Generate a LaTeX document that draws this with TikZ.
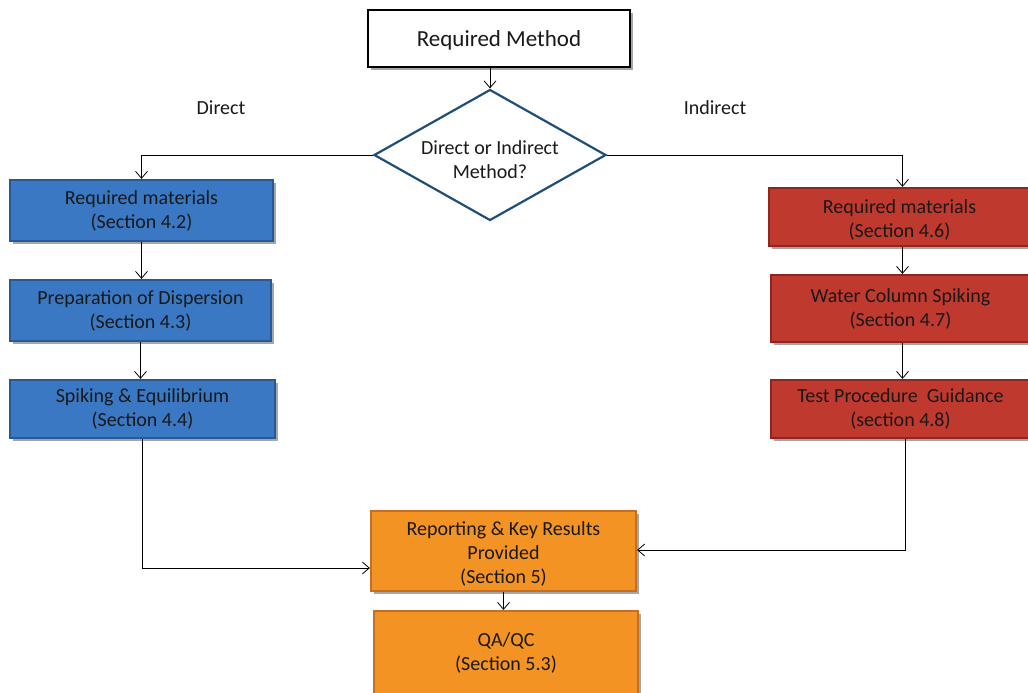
\documentclass[tikz,border=0pt]{standalone}
\usepackage{fontspec}
\setmainfont{Carlito}
\usetikzlibrary{shapes.geometric,arrows.meta,shadows}
\definecolor{bluefill}{HTML}{3B78C3}
\definecolor{blueedge}{HTML}{275A95}
\definecolor{redfill}{HTML}{C0392F}
\definecolor{rededge}{HTML}{8F2520}
\definecolor{orangefill}{HTML}{F39323}
\definecolor{orangeedge}{HTML}{C56F22}
\definecolor{diaedge}{HTML}{1F4E79}
\tikzset{
  box/.style={rectangle, inner sep=0pt, align=center, font=\fontsize{20}{24}\selectfont, text=black!90,
    line width=2.2pt, drop shadow={shadow xshift=3pt, shadow yshift=-3pt, opacity=0.35, fill=black}},
  bluebox/.style={box, fill=bluefill, draw=blueedge},
  redbox/.style={box, fill=redfill, draw=rededge},
  orangebox/.style={box, fill=orangefill, draw=orangeedge},
  arr/.style={-{Straight Barb[length=7pt,width=12pt]}, line width=0.8pt, black},
  lbl/.style={font=\fontsize{20}{24}\selectfont, text=black!90}
}
\begin{document}
\begin{tikzpicture}[x=1pt,y=-1pt]
\useasboundingbox (0,0) rectangle (1028,693);
\fill[white] (0,0) rectangle (1028,693);
\node[box, fill=white, draw=black, line width=2.8pt, minimum width=262pt, minimum height=57pt] (rm) at (499,38.5) {};
\node[font=\fontsize{23}{28}\selectfont, text=black!90] (rmt) at (499,40.5) {Required Method};
\node[diamond, aspect=1.77, draw=diaedge, fill=white, line width=2.2pt, minimum width=232pt, minimum height=131pt,
  inner sep=0pt] (dm) at (490,155) {};
\node[align=center, font=\fontsize{20}{24}\selectfont, text=black!90] (dmt) at (490,160)
  {Direct or Indirect\\Method?};
\node[lbl] (ld) at (221,108) {Direct};
\node[lbl] (li) at (715,108) {Indirect};

\node[bluebox, minimum width=263pt, minimum height=61pt] (b1) at (141.5,210.5) {Required materials\\(Section 4.2)};
\node[bluebox, minimum width=261pt, minimum height=61pt] (b2) at (140.5,310.5) {Preparation of Dispersion\\(Section 4.3)};
\node[bluebox, minimum width=265pt, minimum height=58pt] (b3) at (142.5,409) {Spiking \& Equilibrium\\(Section 4.4)};

\node[redbox, minimum width=261pt, minimum height=58pt] (r1) at (899.5,217) {};
\node[align=center, font=\fontsize{20}{24}\selectfont, text=black!90] (r1t) at (899.5,220) {Required materials\\(Section 4.6)};
\node[redbox, minimum width=259pt, minimum height=67pt] (r2) at (900.5,308.5) {Water Column Spiking\\(Section 4.7)};
\node[redbox, minimum width=259pt, minimum height=58pt] (r3) at (900.5,409) {Test Procedure~ Guidance\\(section 4.8)};

\node[orangebox, minimum width=265pt, minimum height=80pt] (o1) at (503.5,551) {};
\node[align=center, font=\fontsize{20}{24}\selectfont, text=black!90] (o1t) at (503.5,554) {Reporting \& Key Results\\Provided\\(Section 5)};
\node[orangebox, minimum width=264pt, minimum height=84pt] (o2) at (506,653) {QA/QC\\(Section 5.3)};

\draw[arr] (rm.south -| dm.north) -- (dm.north);
\draw[arr] (dm.west) -| (b1.north);
\draw[arr] (dm.east) -| ([xshift=3pt]r1.north);
\draw[arr] (b1.south) -- (b1.south |- b2.north);
\draw[arr] (b2.south) -- (b2.south |- b3.north);
\draw[arr] ([xshift=3pt]r1.south) -- ([xshift=3pt]r1.south |- r2.north);
\draw[arr] ([xshift=2pt]r2.south) -- ([xshift=2pt]r2.south |- r3.north);
\draw[arr] (b3.south) |- ([yshift=-17pt]o1.west);
\draw[arr] ([xshift=4.5pt]r3.south) |- ([yshift=1pt]o1.east);
\draw[arr] (o1.south) -- (o1.south |- o2.north);
\end{tikzpicture}
\end{document}
